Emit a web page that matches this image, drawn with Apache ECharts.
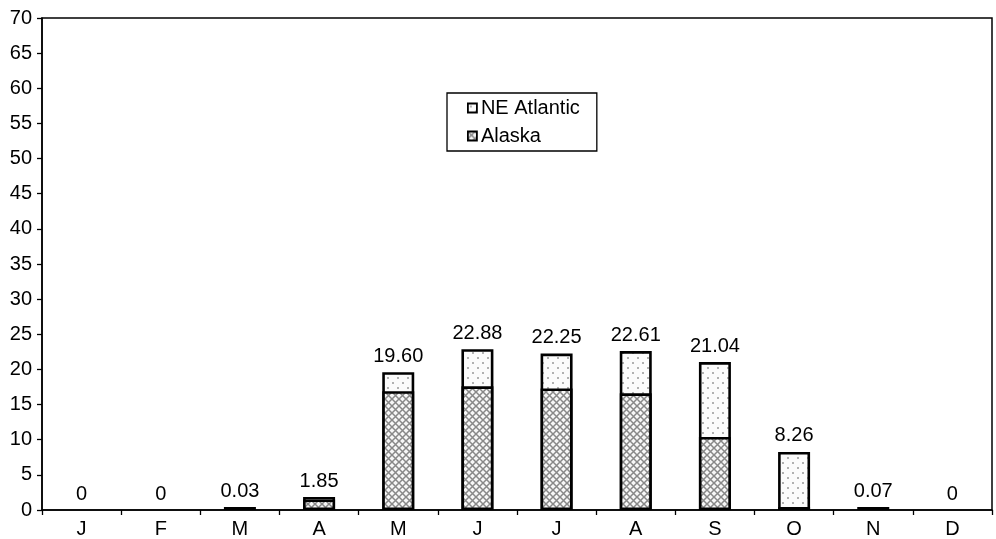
<!DOCTYPE html>
<html>
<head>
<meta charset="utf-8">
<script src="https://cdn.jsdelivr.net/npm/echarts@6/dist/echarts.min.js"></script>
<style>html,body{margin:0;padding:0;background:#fff;}#chart{width:996px;height:539px;}</style>
</head>
<body>
<div id="chart"></div>
<script>
const months = ['J','F','M','A','M','J','J','A','S','O','N','D'];
// bar totals (Alaska + NE Atlantic), as labelled above the bars
const totals = [0, 0, 0.03, 1.85, 19.60, 22.88, 22.25, 22.61, 21.04, 8.26, 0.07, 0];
// Alaska share (lower, cross-hatched part)
const alaska = [0, 0, 0, 1.5, 16.9, 17.6, 17.3, 16.6, 10.4, 0.15, 0, 0];
const totalLabels = ['0','0','0.03','1.85','19.60','22.88','22.25','22.61','21.04','8.26','0.07','0'];
const yTicks = {min: 0, max: 70, interval: 5};

function hatchPattern() {
  const s = 7;
  const c = document.createElement('canvas');
  c.width = s; c.height = s;
  const g = c.getContext('2d');
  g.fillStyle = '#f7f7f7'; g.fillRect(0, 0, s, s);
  g.strokeStyle = '#888888'; g.lineWidth = 1.5;
  g.beginPath();
  g.moveTo(-1, -1); g.lineTo(s + 1, s + 1);
  g.moveTo(s + 1, -1); g.lineTo(-1, s + 1);
  g.stroke();
  return c;
}
function dotPattern() {
  const c = document.createElement('canvas');
  c.width = 10; c.height = 10;
  const g = c.getContext('2d');
  g.fillStyle = '#fbfbfb'; g.fillRect(0, 0, 10, 10);
  g.fillStyle = '#b0b0b0';
  g.fillRect(2, 2, 2, 2);
  g.fillRect(7, 7, 2, 2);
  return c;
}
function build(arr) {
  return arr.map(v => v === 0
    ? {value: v, itemStyle: {borderWidth: 0, color: 'rgba(0,0,0,0)'}, label: {distance: 3}}
    : v);
}

const chart = echarts.init(document.getElementById('chart'), null, {renderer: 'canvas'});
const font = 'Liberation Sans, Arial, sans-serif';
chart.setOption({
  animation: false,
  textStyle: {fontFamily: font},
  grid: {left: 42, right: 4, top: 18, bottom: 29, show: true, borderColor: '#000', borderWidth: 1.5, backgroundColor: 'transparent'},
  legend: {
    orient: 'vertical', left: 447, top: 93,
    padding: [5, 17, 5, 20], itemGap: 8,
    borderColor: '#000', borderWidth: 1.3, backgroundColor: '#fff',
    icon: 'rect', itemWidth: 9, itemHeight: 9,
    itemStyle: {borderColor: '#000', borderWidth: 1.8},
    textStyle: {fontSize: 20, color: '#000', fontFamily: font, padding: [0, 0, 0, -1]},
    data: ['NE Atlantic', 'Alaska']
  },
  xAxis: {
    type: 'category', data: months,
    axisLine: {lineStyle: {color: '#000', width: 1.5}},
    axisTick: {show: true, length: 5, lineStyle: {color: '#000', width: 1.3}},
    axisLabel: {color: '#000', fontSize: 20, margin: 9, fontFamily: font},
    splitLine: {show: false}
  },
  yAxis: {
    type: 'value', min: yTicks.min, max: yTicks.max, interval: yTicks.interval,
    axisLine: {show: true, lineStyle: {color: '#000', width: 1.5}},
    axisTick: {show: true, length: 5, lineStyle: {color: '#000', width: 1.3}},
    axisLabel: {color: '#000', fontSize: 20, margin: 10, fontFamily: font},
    splitLine: {show: false}
  },
  series: [
    {
      name: 'NE Atlantic', type: 'bar', barWidth: 32, z: 2, barMinHeight: 3,
      data: build(totals),
      itemStyle: {color: {image: dotPattern(), repeat: 'repeat'}, borderColor: '#000', borderWidth: 2.6},
      label: {
        show: true, position: 'top', distance: 6, color: '#000', fontSize: 20, fontFamily: font,
        formatter: p => totalLabels[p.dataIndex]
      }
    },
    {
      name: 'Alaska', type: 'bar', barWidth: 32, barGap: '-100%', z: 3, barMinHeight: 3,
      data: build(alaska),
      itemStyle: {color: {image: hatchPattern(), repeat: 'repeat'}, borderColor: '#000', borderWidth: 2.6}
    }
  ]
});
</script>
</body>
</html>
